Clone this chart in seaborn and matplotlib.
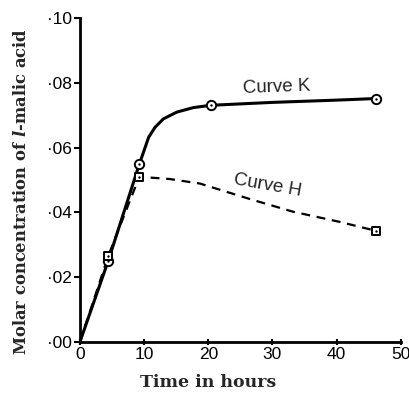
import numpy as np
import pandas as pd
import seaborn as sns
import matplotlib.pyplot as plt

# smooth curves, points
k_time = [0, 4.4, 9.25, 9.9, 10.7, 11.7, 13.0, 15.1, 17.7, 20.4, 30.0, 40.0, 46.2]
k_conc = [0, 0.0250, 0.0549, 0.0586, 0.0632, 0.0663, 0.0689, 0.0710, 0.0724, 0.0731, 0.0740, 0.0747, 0.0752]
h_time = [0, 4.4, 9.25, 14.0, 18.7, 26.5, 33.2, 40.6, 46.1]
h_conc = [0, 0.0265, 0.0510, 0.0503, 0.0489, 0.0441, 0.0402, 0.0370, 0.0343]

# measured points
k_pts_time = [4.4, 9.25, 20.4, 46.2]
k_pts_conc = [0.0250, 0.0549, 0.0731, 0.0752]
h_pts_time = [4.4, 9.25, 46.1]
h_pts_conc = [0.0265, 0.0510, 0.0343]

x_ticks = [0, 10, 20, 30, 40, 50]
y_ticks = [0, 0.02, 0.04, 0.06, 0.08, 0.10]
y_labels = ["·00", "·02", "·04", "·06", "·08", "·10"]

sns.set_style("ticks")
plt.rcParams["font.family"] = ["Liberation Sans", "DejaVu Sans"]
plt.rcParams["mathtext.fontset"] = "custom"
plt.rcParams["mathtext.it"] = "DejaVu Serif:italic:bold"
plt.rcParams["mathtext.rm"] = "DejaVu Serif:bold"

fig = plt.figure(figsize=(4.09, 3.97), dpi=100)
ax = fig.add_axes([0.1956, 0.1393, 0.7841, 0.8146])

k_df = pd.DataFrame({"t": k_time, "c": k_conc})
h_df = pd.DataFrame({"t": h_time, "c": h_conc})
sns.lineplot(data=k_df, x="t", y="c", ax=ax, color="black", lw=2.2,
             sort=False, estimator=None, zorder=3)
sns.lineplot(data=h_df, x="t", y="c", ax=ax, color="black", lw=1.6,
             sort=False, estimator=None, zorder=2)
ax.lines[-1].set_dashes((4, 3))

sns.scatterplot(x=k_pts_time, y=k_pts_conc, ax=ax, marker="o", s=45,
                facecolor="white", edgecolor="black", linewidth=1.4, zorder=4)
sns.scatterplot(x=h_pts_time, y=h_pts_conc, ax=ax, marker="s", s=36,
                facecolor="white", edgecolor="black", linewidth=1.4, zorder=4)
sns.scatterplot(x=k_pts_time + h_pts_time, y=k_pts_conc + h_pts_conc, ax=ax,
                marker="o", s=3, color="black", linewidth=0, zorder=5)

ax.text(30.7, 0.0786, "Curve K", fontsize=13.5, ha="center", va="center", rotation=2)
ax.text(29.3, 0.0484, "Curve H", fontsize=13.5, ha="center", va="center", rotation=-10)

ax.set_xlim(0, 50)
ax.set_ylim(0, 0.10)
ax.set_xticks(x_ticks)
ax.set_yticks(y_ticks)
ax.set_yticklabels(y_labels)
ax.tick_params(axis="both", labelsize=12.5, width=1.5, length=4, colors="black")
ax.tick_params(axis="x", direction="inout", pad=2)
ax.tick_params(axis="y", pad=2)
for sp in ["top", "right"]:
    ax.spines[sp].set_visible(False)
for sp in ["left", "bottom"]:
    ax.spines[sp].set_linewidth(2)
    ax.spines[sp].set_color("black")

ax.set_xlabel("Time in hours", fontsize=12.5, fontweight="bold",
              family="DejaVu Serif", va="center")
ax.set_ylabel(r"Molar concentration of $\mathit{l}$-malic acid", fontsize=11.8,
              fontweight="bold", family="DejaVu Serif", va="center")
ax.xaxis.set_label_coords(0.398, -0.125)
ax.yaxis.set_label_coords(-0.181, 0.463)

fig.savefig("out.png", dpi=100)
